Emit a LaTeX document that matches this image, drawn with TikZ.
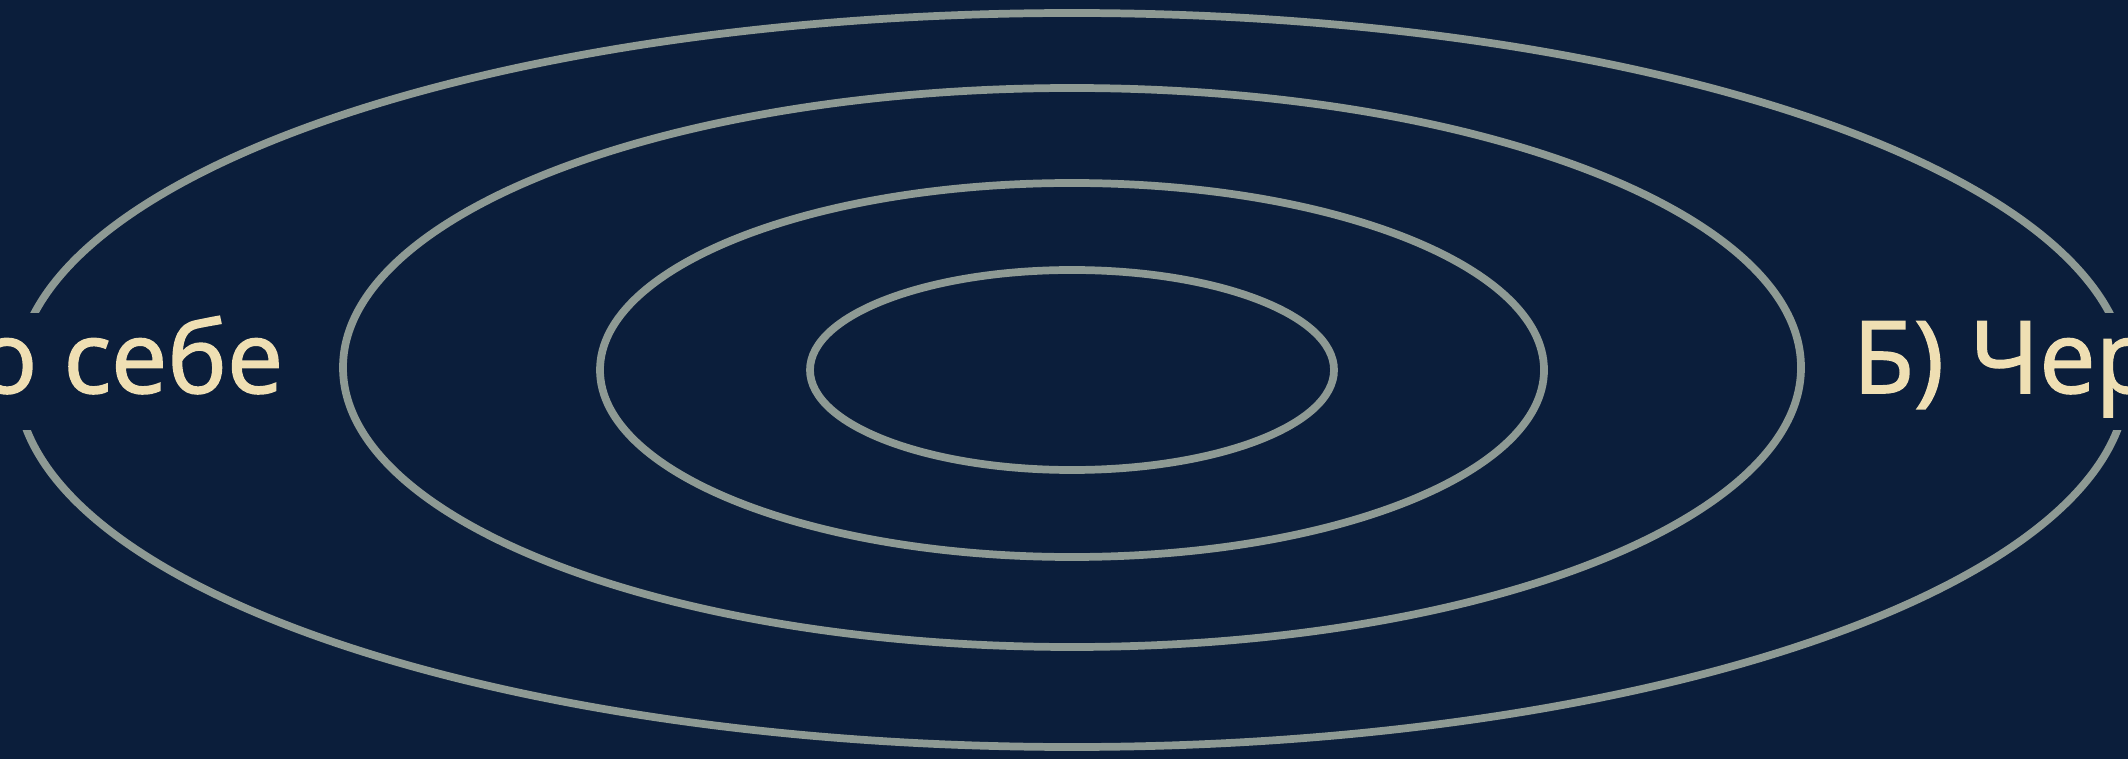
\documentclass[tikz,border=0pt]{standalone}
\usepackage{fontspec}
\setmainfont{Open Sans}
\newfontfamily\sidefont[FakeBold=1.6]{Open Sans}
\usepackage{xcolor}
\usepackage{tikz}
\usetikzlibrary{positioning}
\definecolor{night}{HTML}{0B1E3B}
\definecolor{ringgray}{HTML}{8E9A94}
\definecolor{cream}{HTML}{EFDFB3}

\begin{document}
\begin{tikzpicture}[
  ring/.style={draw=ringgray, line width=2.2pt},
  sidetext/.style={fill=night, text=cream, font=\sidefont\fontsize{28.5}{32}\selectfont,
                   inner xsep=0.12cm, inner ysep=0.1cm,
                   text height=0.70cm, text depth=0.27cm}
]

\fill[night] (0,0) rectangle (21.28,7.59);
\clip (0,0) rectangle (21.28,7.59);

% rings, inner to outer
\draw[ring] (10.72,3.89) ellipse [x radius=2.62, y radius=1.00];
\draw[ring] (10.72,3.89) ellipse [x radius=4.72, y radius=1.87];
\draw[ring] (10.72,3.915) ellipse [x radius=7.29, y radius=2.795];
\draw[ring] (10.72,3.79) ellipse [x radius=10.55, y radius=3.67];

% side texts
\node[sidetext, anchor=base east] (left) at (2.96,3.66) {о себе};
\node[sidetext, anchor=base west] (right) at (18.40,3.66) {Б) Чер};

\end{tikzpicture}
\end{document}
